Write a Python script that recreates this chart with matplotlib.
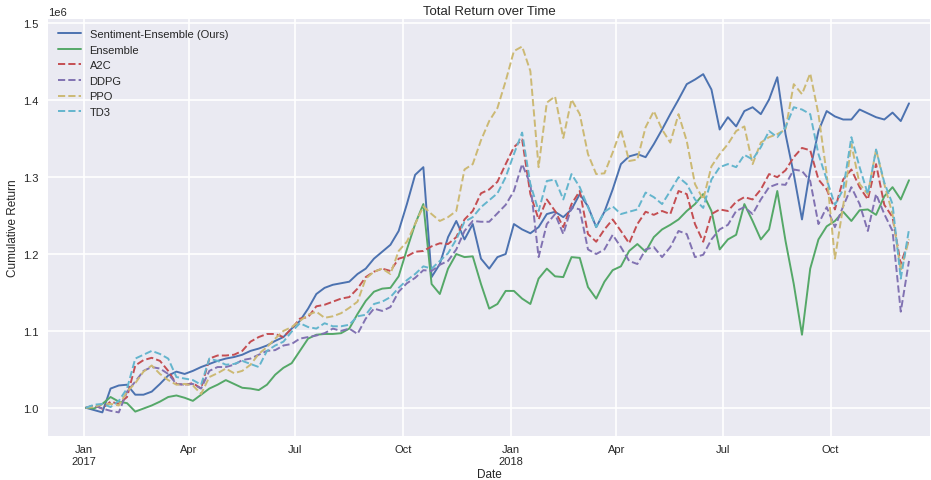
import numpy as np
import pandas as pd
import matplotlib
matplotlib.use("Agg")
import matplotlib.pyplot as plt

# weekly samples of the daily curves, values in millions
dates = pd.date_range("2017-01-03", "2018-12-07", periods=101)

sentiment_ensemble = [
    1.000, 0.997, 0.994, 1.025, 1.029, 1.030, 1.017, 1.017, 1.021, 1.031,
    1.042, 1.047, 1.044, 1.048, 1.053, 1.057, 1.061, 1.064, 1.066, 1.069,
    1.074, 1.077, 1.081, 1.087, 1.092, 1.103, 1.113, 1.129, 1.148, 1.156,
    1.160, 1.162, 1.164, 1.174, 1.181, 1.194, 1.203, 1.212, 1.230, 1.265,
    1.303, 1.313, 1.170, 1.187, 1.222, 1.243, 1.219, 1.239, 1.194, 1.181,
    1.196, 1.200, 1.239, 1.232, 1.227, 1.235, 1.252, 1.255, 1.248, 1.258,
    1.278, 1.262, 1.235, 1.255, 1.284, 1.317, 1.327, 1.330, 1.326, 1.343,
    1.362, 1.382, 1.401, 1.421, 1.427, 1.434, 1.414, 1.362, 1.378, 1.366,
    1.386, 1.391, 1.382, 1.401, 1.430, 1.356, 1.304, 1.245, 1.310, 1.360,
    1.386, 1.379, 1.375, 1.375, 1.388, 1.383, 1.378, 1.375, 1.384, 1.373,
    1.396,
]
ensemble = [
    1.000, 0.999, 1.005, 1.014, 1.008, 1.006, 0.995, 0.999, 1.003, 1.008,
    1.014, 1.016, 1.013, 1.009, 1.017, 1.025, 1.030, 1.036, 1.031, 1.026,
    1.025, 1.023, 1.030, 1.043, 1.052, 1.058, 1.074, 1.090, 1.095, 1.096,
    1.096, 1.097, 1.103, 1.122, 1.139, 1.151, 1.155, 1.156, 1.171, 1.206,
    1.239, 1.265, 1.161, 1.148, 1.181, 1.200, 1.196, 1.197, 1.161, 1.129,
    1.135, 1.152, 1.152, 1.142, 1.135, 1.168, 1.181, 1.171, 1.170, 1.196,
    1.195, 1.157, 1.142, 1.164, 1.179, 1.184, 1.204, 1.213, 1.203, 1.222,
    1.232, 1.238, 1.245, 1.256, 1.265, 1.278, 1.256, 1.206, 1.219, 1.225,
    1.265, 1.243, 1.219, 1.232, 1.282, 1.217, 1.161, 1.095, 1.181, 1.219,
    1.236, 1.243, 1.255, 1.243, 1.257, 1.258, 1.251, 1.275, 1.287, 1.271,
    1.296,
]
a2c = [
    1.000, 1.003, 0.999, 1.008, 1.005, 1.014, 1.055, 1.062, 1.065, 1.061,
    1.048, 1.031, 1.030, 1.032, 1.025, 1.064, 1.068, 1.068, 1.069, 1.074,
    1.086, 1.092, 1.096, 1.096, 1.092, 1.103, 1.116, 1.118, 1.132, 1.134,
    1.138, 1.142, 1.144, 1.155, 1.170, 1.177, 1.181, 1.178, 1.194, 1.197,
    1.203, 1.204, 1.210, 1.214, 1.213, 1.222, 1.245, 1.256, 1.279, 1.284,
    1.294, 1.317, 1.339, 1.349, 1.278, 1.245, 1.271, 1.256, 1.235, 1.265,
    1.282, 1.226, 1.216, 1.232, 1.245, 1.230, 1.214, 1.239, 1.255, 1.251,
    1.256, 1.252, 1.282, 1.278, 1.239, 1.216, 1.252, 1.258, 1.256, 1.268,
    1.274, 1.271, 1.284, 1.304, 1.300, 1.309, 1.326, 1.338, 1.335, 1.297,
    1.284, 1.258, 1.297, 1.310, 1.287, 1.271, 1.317, 1.264, 1.248, 1.187,
    1.219,
]
ddpg = [
    1.000, 1.003, 0.999, 0.996, 0.994, 1.021, 1.034, 1.048, 1.053, 1.051,
    1.044, 1.031, 1.030, 1.031, 1.025, 1.048, 1.053, 1.053, 1.056, 1.062,
    1.064, 1.069, 1.074, 1.075, 1.081, 1.083, 1.090, 1.092, 1.094, 1.097,
    1.103, 1.100, 1.103, 1.096, 1.116, 1.129, 1.126, 1.131, 1.151, 1.162,
    1.169, 1.179, 1.178, 1.186, 1.191, 1.206, 1.230, 1.243, 1.242, 1.242,
    1.253, 1.264, 1.282, 1.317, 1.291, 1.196, 1.239, 1.252, 1.226, 1.261,
    1.258, 1.206, 1.200, 1.206, 1.225, 1.209, 1.191, 1.187, 1.206, 1.209,
    1.196, 1.209, 1.230, 1.226, 1.196, 1.199, 1.219, 1.232, 1.238, 1.256,
    1.261, 1.252, 1.271, 1.287, 1.291, 1.290, 1.310, 1.308, 1.295, 1.239,
    1.261, 1.235, 1.262, 1.287, 1.265, 1.230, 1.278, 1.252, 1.230, 1.125,
    1.191,
]
ppo = [
    1.000, 1.001, 1.005, 1.005, 1.003, 1.021, 1.032, 1.047, 1.055, 1.044,
    1.036, 1.030, 1.031, 1.029, 1.018, 1.040, 1.045, 1.051, 1.045, 1.048,
    1.056, 1.070, 1.079, 1.090, 1.100, 1.105, 1.113, 1.121, 1.125, 1.117,
    1.119, 1.123, 1.130, 1.138, 1.168, 1.177, 1.181, 1.174, 1.204, 1.216,
    1.239, 1.262, 1.252, 1.243, 1.248, 1.256, 1.310, 1.317, 1.348, 1.373,
    1.390, 1.425, 1.464, 1.470, 1.438, 1.313, 1.397, 1.405, 1.351, 1.401,
    1.382, 1.330, 1.304, 1.305, 1.332, 1.362, 1.321, 1.323, 1.365, 1.386,
    1.362, 1.345, 1.382, 1.347, 1.291, 1.271, 1.314, 1.330, 1.343, 1.360,
    1.366, 1.317, 1.345, 1.352, 1.356, 1.362, 1.421, 1.408, 1.435, 1.382,
    1.304, 1.194, 1.262, 1.343, 1.291, 1.278, 1.336, 1.291, 1.252, 1.178,
    1.219,
]
td3 = [
    1.000, 1.004, 1.005, 1.001, 1.009, 1.025, 1.064, 1.069, 1.074, 1.070,
    1.064, 1.040, 1.038, 1.036, 1.030, 1.064, 1.061, 1.056, 1.057, 1.061,
    1.057, 1.053, 1.074, 1.081, 1.086, 1.099, 1.110, 1.105, 1.103, 1.110,
    1.106, 1.106, 1.108, 1.119, 1.121, 1.135, 1.138, 1.144, 1.156, 1.166,
    1.174, 1.184, 1.181, 1.191, 1.201, 1.219, 1.242, 1.248, 1.261, 1.270,
    1.279, 1.300, 1.330, 1.358, 1.291, 1.256, 1.295, 1.297, 1.271, 1.304,
    1.287, 1.261, 1.235, 1.255, 1.262, 1.252, 1.255, 1.258, 1.280, 1.274,
    1.265, 1.282, 1.300, 1.291, 1.271, 1.260, 1.297, 1.313, 1.317, 1.313,
    1.329, 1.323, 1.339, 1.360, 1.352, 1.365, 1.391, 1.388, 1.382, 1.330,
    1.297, 1.264, 1.284, 1.352, 1.313, 1.278, 1.336, 1.293, 1.265, 1.168,
    1.232,
]

labels = ["Sentiment-Ensemble (Ours)", "Ensemble", "A2C", "DDPG", "PPO", "TD3"]
tick_dates = ["2017-01-01", "2017-04-01", "2017-07-01", "2017-10-01",
              "2018-01-01", "2018-04-01", "2018-07-01", "2018-10-01"]
tick_labels = ["Jan\n2017", "Apr", "Jul", "Oct", "Jan\n2018", "Apr", "Jul", "Oct"]

plt.style.use("seaborn-v0_8-darkgrid")
plt.rcParams["font.family"] = ["Liberation Sans", "DejaVu Sans"]

fig, ax = plt.subplots(figsize=(9.31, 4.81), dpi=100)
fig.subplots_adjust(left=0.052, right=0.999, top=0.958, bottom=0.092)

colors = ["#4C72B0", "#55A868", "#C44E52", "#8172B2", "#CCB974", "#64B5CD"]
styles = ["-", "-", "--", "--", "--", "--"]
all_series = [sentiment_ensemble, ensemble, a2c, ddpg, ppo, td3]

for vals, lab, col, ls in zip(all_series, labels, colors, styles):
    ax.plot(dates, np.array(vals) * 1e6, ls, color=col, lw=1.4, label=lab)

ax.set_xlim(pd.Timestamp("2016-12-02"), pd.Timestamp("2018-12-25"))
ax.set_ylim(0.9636e6, 1.5055e6)
ax.set_xticks(pd.to_datetime(tick_dates))
ax.set_xticklabels(tick_labels, linespacing=1.2)
ax.tick_params(axis="x", labelsize=8, pad=6)
ax.tick_params(axis="y", labelsize=8, pad=7)
ax.yaxis.get_offset_text().set_fontsize(8)
ax.grid(True, color="white", lw=1.2)

ax.set_title("Total Return over Time", fontsize=9.5, pad=3.5)
ax.set_xlabel("Date", fontsize=8.5, labelpad=2)
ax.set_ylabel("Cumulative Return", fontsize=8.5, labelpad=3)
ax.legend(loc="upper left", fontsize=8, frameon=False)

fig.savefig("out.png", dpi=100)
